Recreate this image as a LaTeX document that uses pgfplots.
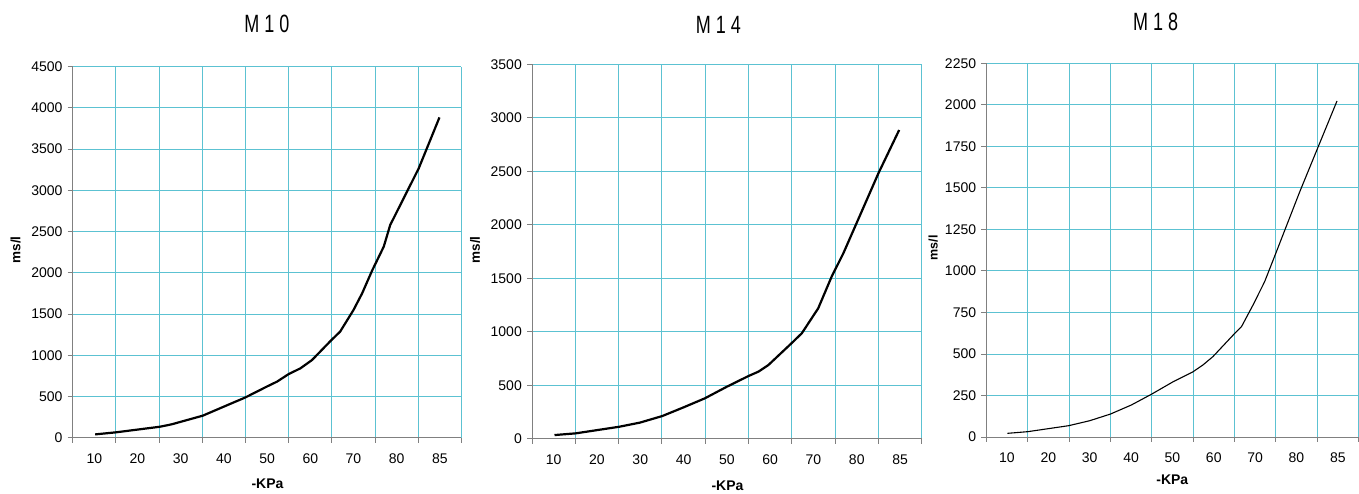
\documentclass[border=0pt]{standalone}
\usepackage{pgfplots}
\pgfplotsset{compat=1.18}
\usepackage{fontspec}
\setmainfont{Liberation Sans}
\definecolor{gridc}{HTML}{5CC2D2}
\definecolor{axisgray}{HTML}{808080}
\pgfplotsset{
  panel/.style={
    scale only axis, anchor=south west,
    xmin=0, xmax=9, ymin=0,
    axis lines*=left,
    axis line style={draw=axisgray, line width=0.9pt},
    xtick={0.5,1.5,...,8.5},
    xticklabels={10,20,30,40,50,60,70,80,85},
    minor xtick={0,1,...,9},
    tick align=outside,
    major tick length=5pt, minor tick length=5pt,
    major x tick style={draw=none},
    minor x tick style={draw=axisgray, line width=0.9pt},
    major y tick style={draw=axisgray, line width=0.9pt},
    xminorgrids, ymajorgrids,
    major grid style={draw=gridc, line width=0.9pt},
    minor grid style={draw=gridc, line width=0.9pt},
    ticklabel style={font=\fontsize{14}{14}\selectfont},
    xticklabel style={inner sep=0pt, anchor=north, yshift=-11pt},
    yticklabel style={inner sep=0pt, anchor=east, xshift=-5pt},
    /pgf/number format/assume math mode=true,
    /pgf/number format/1000 sep={},
    clip=false,
  }
}
\begin{document}
\begin{tikzpicture}[x=1pt,y=1pt]
\useasboundingbox (0,0) rectangle (1359,494);
% Panel M10
\begin{axis}[panel, at={(72.7pt,56.3pt)}, width=388.8pt, height=371pt,
  ymax=4500, ytick distance=500]
\addplot[black, line width=2.2pt, line join=round] coordinates {
(0.52,40) (1.0,65) (2.02,133) (2.29,162) (3.01,267) (4.0,489) (4.49,619)
(4.73,680) (5.0,772) (5.27,841) (5.54,942) (5.99,1185) (6.19,1286)
(6.5,1549) (6.70,1751) (6.93,2026) (7.2,2317) (7.35,2580) (8.01,3267) (8.49,3885)};
\end{axis}
% Panel M14
\begin{axis}[panel, at={(532pt,55.3pt)}, width=389.7pt, height=374.4pt,
  ymax=3500, ytick distance=500]
\addplot[black, line width=2.2pt, line join=round] coordinates {
(0.52,34) (1.01,50) (2.02,112) (2.49,150) (3.01,212) (3.5,293) (3.99,377)
(4.5,486) (5.0,586) (5.23,627) (5.46,689) (5.99,891) (6.23,985) (6.61,1219)
(6.92,1515) (7.19,1733) (7.46,1982) (8.0,2481) (8.48,2886)};
\end{axis}
% Panel M18
\begin{axis}[panel, at={(986.3pt,57pt)}, width=372.2pt, height=373.7pt,
  ymax=2250, ytick distance=250]
\addplot[black, line width=1.1pt, line join=round] coordinates {
(0.51,22) (1.0,32) (1.99,68) (2.5,98) (3.0,138) (3.51,193) (3.99,257)
(4.52,333) (5.0,393) (5.24,434) (5.48,484) (5.97,614) (6.17,664) (6.45,795)
(6.73,935) (7.0,1106) (7.25,1266) (7.58,1477) (8.0,1732) (8.48,2023)};
\end{axis}
% titles
\node[font=\fontsize{25}{25}\selectfont] at (267,470.3) {\scalebox{0.72}[1]{M 1 0}};
\node[font=\fontsize{25}{25}\selectfont] at (718.3,469) {\scalebox{0.72}[1]{M 1 4}};
\node[font=\fontsize{25}{25}\selectfont] at (1155.7,472.3) {\scalebox{0.72}[1]{M 1 8}};
% x labels
\node[font=\bfseries\fontsize{14}{14}\selectfont] at (267.5,10.7) {-KPa};
\node[font=\bfseries\fontsize{14}{14}\selectfont] at (727.5,8.3) {-KPa};
\node[font=\bfseries\fontsize{14}{14}\selectfont] at (1172.3,14) {-KPa};
% y labels
\node[rotate=90,font=\bfseries\fontsize{13.5}{13.5}\selectfont] at (15.7,244) {ms/l};
\node[rotate=90,font=\bfseries\fontsize{13.5}{13.5}\selectfont] at (475,244) {ms/l};
\node[rotate=90,font=\bfseries\fontsize{12.5}{12.5}\selectfont] at (933.3,246) {ms/l};
\end{tikzpicture}
\end{document}
